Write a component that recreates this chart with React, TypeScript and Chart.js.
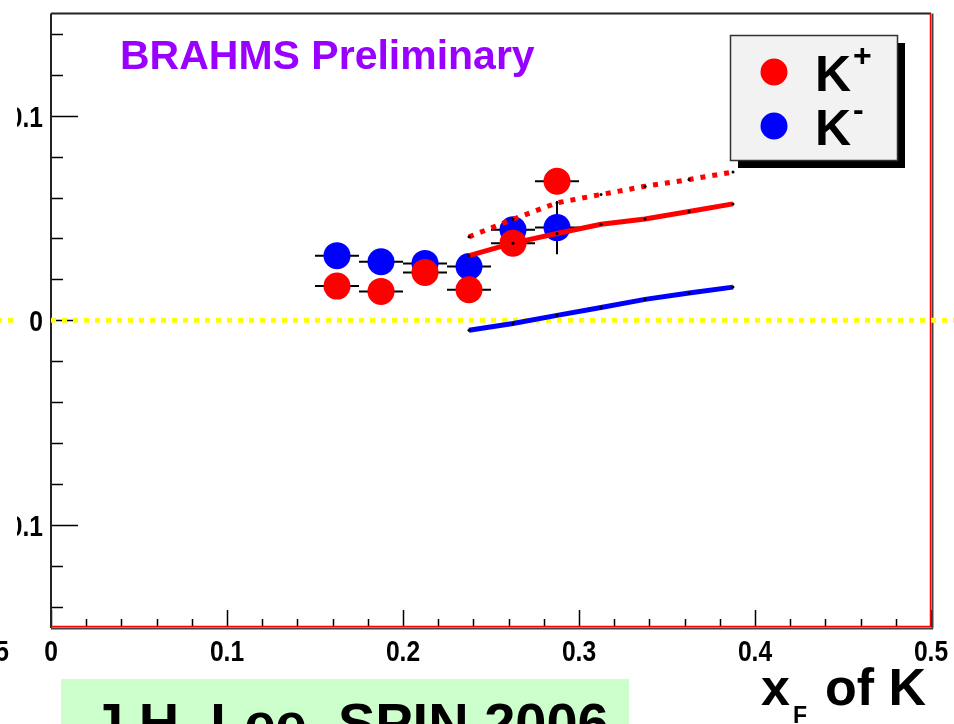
import React, { useEffect, useRef } from "react";
import { Chart, registerables } from "chart.js";

Chart.register(...registerables);

const FONT = "'Liberation Sans', Arial, Helvetica, sans-serif";

// ---- data: measured single-spin asymmetry vs x_F ----
const xBins = [0.1625, 0.1875, 0.2125, 0.2375, 0.2625, 0.2875];
const xBinHalfWidth = 0.0125;
const kPlusAN = [0.0167, 0.0141, 0.0234, 0.0149, 0.0377, 0.068];
const kPlusErr = [0.005, 0.005, 0.005, 0.005, 0.006, 0.006];
const kMinusAN = [0.0316, 0.0286, 0.0278, 0.0263, 0.0442, 0.0453];
const kMinusErr = [0.005, 0.005, 0.005, 0.005, 0.006, 0.013];

// ---- theory curves ----
const theoryX = [0.2375, 0.2625, 0.2875, 0.3125, 0.3375, 0.3625, 0.3875];
const kPlusTheory = [0.0316, 0.0377, 0.0424, 0.0469, 0.0495, 0.0532, 0.0569];
const kPlusTheoryAlt = [0.0408, 0.0494, 0.0574, 0.0615, 0.0655, 0.0688, 0.0725];
const kMinusTheory = [-0.0049, -0.0016, 0.0024, 0.0062, 0.0102, 0.0133, 0.0162];

// ---- zero reference line ----
const zeroLineX = [0, 0.52];
const zeroLineY = [0, 0];

// ---- axes ----
const xTickValues = [0, 0.1, 0.2, 0.3, 0.4, 0.5];
const xTickLabels = ["0", "0.1", "0.2", "0.3", "0.4", "0.5"];
const yTickValues = [-0.1, 0, 0.1];
const yTickLabels = ["-0.1", "0", "0.1"];
const xMinorTicks = [0.02, 0.04, 0.06, 0.08, 0.12, 0.14, 0.16, 0.18, 0.22, 0.24, 0.26, 0.28, 0.32, 0.34, 0.36, 0.38, 0.42, 0.44, 0.46, 0.48];
const yMinorTicks = [-0.14, -0.12, -0.08, -0.06, -0.04, -0.02, 0.02, 0.04, 0.06, 0.08, 0.12, 0.14];

// ---- texts ----
const legendLabels = [
  { base: "K", sup: "+" },
  { base: "K", sup: "-" },
];
const titleText = "BRAHMS Preliminary";
const xTitleMain = "x";
const xTitleSub = "F";
const xTitleRest = "of K";
const creditText = "J.H. Lee, SPIN 2006";
const strayLabel = "0.5";

const RED = "#ff0000";
const BLUE = "#0000ff";
const PAD_LEFT_EDGE = 17;
const LABEL_SQUEEZE = 0.82;

function drawSqueezed(ctx: any, text: string, x: number, y: number, align: "left" | "center" | "right") {
  ctx.save();
  ctx.translate(x, y);
  ctx.scale(LABEL_SQUEEZE, 1);
  ctx.textAlign = align;
  ctx.fillText(text, 0, 0);
  ctx.restore();
}

const decorPlugin = {
  id: "decor",
  beforeDraw(chart: any) {
    const ctx = chart.ctx;
    ctx.save();
    ctx.fillStyle = "#ffffff";
    ctx.fillRect(0, 0, chart.width, chart.height);
    ctx.restore();
  },
  beforeDatasetsDraw(chart: any) {
    const ctx = chart.ctx;
    const { left, right, top, bottom } = chart.chartArea;
    const xs = chart.scales.x;
    const ys = chart.scales.y;
    ctx.save();
    // ticks
    ctx.strokeStyle = "#000";
    ctx.lineWidth = 1.5;
    ctx.beginPath();
    xTickValues.forEach((v) => {
      const p = Math.round(xs.getPixelForValue(v)) + 0.5;
      ctx.moveTo(p, bottom);
      ctx.lineTo(p, bottom - 17);
    });
    xMinorTicks.forEach((v) => {
      const p = Math.round(xs.getPixelForValue(v)) + 0.5;
      ctx.moveTo(p, bottom);
      ctx.lineTo(p, bottom - 8);
    });
    yTickValues.forEach((v) => {
      const p = Math.round(ys.getPixelForValue(v)) + 0.5;
      ctx.moveTo(left, p);
      ctx.lineTo(left + 27, p);
    });
    yMinorTicks.forEach((v) => {
      const p = Math.round(ys.getPixelForValue(v)) + 0.5;
      ctx.moveTo(left, p);
      ctx.lineTo(left + 12, p);
    });
    ctx.stroke();

    // frame
    ctx.lineWidth = 2;
    ctx.strokeStyle = "#222";
    ctx.beginPath();
    ctx.moveTo(left, top);
    ctx.lineTo(right, top);
    ctx.moveTo(left, top);
    ctx.lineTo(left, bottom + 1);
    ctx.stroke();
    ctx.strokeStyle = "#444";
    ctx.beginPath();
    ctx.moveTo(left, bottom + 1.5);
    ctx.lineTo(right + 2, bottom + 1.5);
    ctx.moveTo(right + 1.5, top);
    ctx.lineTo(right + 1.5, bottom + 1.5);
    ctx.stroke();
    ctx.strokeStyle = RED;
    ctx.lineWidth = 1.5;
    ctx.beginPath();
    ctx.moveTo(left, bottom - 0.5);
    ctx.lineTo(right, bottom - 0.5);
    ctx.moveTo(right - 0.5, top);
    ctx.lineTo(right - 0.5, bottom);
    ctx.stroke();

    // error bars
    ctx.strokeStyle = "#000";
    ctx.lineWidth = 2;
    const bars = (vals: number[], errs: number[]) => {
      ctx.beginPath();
      xBins.forEach((x, i) => {
        const py = ys.getPixelForValue(vals[i]);
        const px = xs.getPixelForValue(x);
        ctx.moveTo(xs.getPixelForValue(x - xBinHalfWidth), py);
        ctx.lineTo(xs.getPixelForValue(x + xBinHalfWidth), py);
        ctx.moveTo(px, ys.getPixelForValue(vals[i] - errs[i]));
        ctx.lineTo(px, ys.getPixelForValue(vals[i] + errs[i]));
      });
      ctx.stroke();
    };
    bars(kMinusAN, kMinusErr);
    bars(kPlusAN, kPlusErr);
    ctx.restore();
  },
  afterDraw(chart: any) {
    const ctx = chart.ctx;
    const xs = chart.scales.x;
    const ys = chart.scales.y;
    const { left, bottom } = chart.chartArea;
    ctx.save();
    ctx.textBaseline = "alphabetic";

    // axis tick labels (positions from the chart scales)
    ctx.fillStyle = "#000";
    ctx.font = `bold 30px ${FONT}`;
    xTickValues.forEach((v, i) => {
      drawSqueezed(ctx, xTickLabels[i], xs.getPixelForValue(v), bottom + 34, "center");
    });
    yTickValues.forEach((v, i) => {
      drawSqueezed(ctx, yTickLabels[i], left - 8, ys.getPixelForValue(v) + 11, "right");
    });

    // neighbouring panel strip on the far left
    ctx.fillStyle = "#ffffff";
    ctx.fillRect(0, 0, PAD_LEFT_EDGE, 636);
    const y0 = ys.getPixelForValue(0);
    ctx.strokeStyle = "#ffff00";
    ctx.lineWidth = 5;
    ctx.setLineDash([5, 6]);
    ctx.lineDashOffset = 3;
    ctx.beginPath();
    ctx.moveTo(0, y0);
    ctx.lineTo(PAD_LEFT_EDGE, y0);
    ctx.stroke();
    ctx.setLineDash([]);
    ctx.fillStyle = "#000";
    ctx.font = `bold 30px ${FONT}`;
    drawSqueezed(ctx, strayLabel, 9, bottom + 34, "right");

    // title
    ctx.fillStyle = "#9900ff";
    ctx.font = `bold 41px ${FONT}`;
    ctx.textAlign = "left";
    ctx.fillText(titleText, 120, 69);

    // legend
    const bx = 730, by = 35, bw = 167, bh = 125;
    ctx.fillStyle = "#000";
    ctx.fillRect(bx + 8, by + 8, bw, bh);
    ctx.fillStyle = "#f2f2f2";
    ctx.fillRect(bx, by, bw, bh);
    ctx.strokeStyle = "#333";
    ctx.lineWidth = 1.5;
    ctx.strokeRect(bx + 0.5, by + 0.5, bw, bh);
    const colors = [RED, BLUE];
    const rows = [72, 126];
    legendLabels.forEach((l, i) => {
      ctx.fillStyle = colors[i];
      ctx.beginPath();
      ctx.arc(774, rows[i], 13.5, 0, Math.PI * 2);
      ctx.fill();
      ctx.fillStyle = "#000";
      ctx.font = `bold 50px ${FONT}`;
      ctx.fillText(l.base, 815, rows[i] + 19);
      const w = ctx.measureText(l.base).width;
      ctx.font = `bold 32px ${FONT}`;
      ctx.fillText(l.sup, 815 + w + 2, rows[i] - 6);
    });

    // x title
    ctx.fillStyle = "#000";
    ctx.font = `bold 52px ${FONT}`;
    ctx.fillText(xTitleMain, 761, 705);
    ctx.font = `bold 23px ${FONT}`;
    ctx.fillText(xTitleSub, 793, 723);
    ctx.font = `bold 52px ${FONT}`;
    ctx.fillText(xTitleRest, 825, 705);

    // credit box
    ctx.fillStyle = "#ccffcc";
    ctx.fillRect(61, 679, 568, 60);
    ctx.fillStyle = "#000";
    ctx.font = `bold 56px ${FONT}`;
    ctx.fillText(creditText, 92, 742);
    ctx.restore();
  },
};

export default function App() {
  const ref = useRef<HTMLCanvasElement | null>(null);
  useEffect(() => {
    if (!ref.current) return;
    const pts = (xv: number[], yv: number[]) => xv.map((x, i) => ({ x, y: yv[i] }));
    const chart = new Chart(ref.current, {
      type: "scatter",
      data: {
        datasets: [
          {
            label: "zero",
            data: pts(zeroLineX, zeroLineY),
            showLine: true,
            borderColor: "#ffff00",
            borderWidth: 5,
            borderDash: [5, 6],
            pointRadius: 0,
            clip: false as any,
            order: 10,
          },
          {
            label: "K-",
            data: pts(xBins, kMinusAN),
            backgroundColor: BLUE,
            borderWidth: 0,
            pointRadius: 13.5,
            order: 5,
          },
          {
            label: "K+",
            data: pts(xBins, kPlusAN),
            backgroundColor: RED,
            borderWidth: 0,
            pointRadius: 13.5,
            order: 4,
          },
          {
            label: "K- theory",
            data: pts(theoryX, kMinusTheory),
            showLine: true,
            borderColor: BLUE,
            borderWidth: 5,
            pointRadius: 1.5,
            pointBackgroundColor: "#000",
            pointBorderWidth: 0,
            order: 2,
          },
          {
            label: "K+ theory alt",
            data: pts(theoryX, kPlusTheoryAlt),
            showLine: true,
            borderColor: RED,
            borderWidth: 5,
            borderDash: [5, 7],
            pointRadius: 1.5,
            pointBackgroundColor: "#000",
            pointBorderWidth: 0,
            order: 1,
          },
          {
            label: "K+ theory",
            data: pts(theoryX, kPlusTheory),
            showLine: true,
            borderColor: RED,
            borderWidth: 5,
            pointRadius: 1.5,
            pointBackgroundColor: "#000",
            pointBorderWidth: 0,
            order: 0,
          },
        ],
      },
      options: {
        animation: false,
        responsive: false,
        maintainAspectRatio: false,
        layout: { padding: { top: 12, right: 23, left: 0, bottom: 0 } },
        plugins: {
          legend: { display: false },
          tooltip: { enabled: false },
        },
        scales: {
          x: {
            type: "linear",
            min: 0,
            max: 0.5,
            border: { display: false },
            grid: { display: false, drawTicks: false },
            afterBuildTicks: (s: any) => {
              s.ticks = xTickValues.map((v) => ({ value: v }));
            },
            afterFit: (s: any) => {
              s.height = 97;
              s.paddingLeft = 0;
              s.paddingRight = 0;
            },
            ticks: { display: false },
          },
          y: {
            type: "linear",
            min: -0.15,
            max: 0.15,
            border: { display: false },
            grid: { display: false, drawTicks: false },
            afterBuildTicks: (s: any) => {
              s.ticks = yTickValues.map((v) => ({ value: v }));
            },
            afterFit: (s: any) => {
              s.width = 51;
              s.paddingTop = 0;
              s.paddingBottom = 0;
            },
            ticks: { display: false },
          },
        },
      },
      plugins: [decorPlugin],
    } as any);
    return () => chart.destroy();
  }, []);
  return (
    <div style={{ position: "absolute", left: 0, top: 0, width: 954, height: 724, overflow: "hidden" }}>
      <canvas ref={ref} width={954} height={724} style={{ display: "block" }} />
    </div>
  );
}
